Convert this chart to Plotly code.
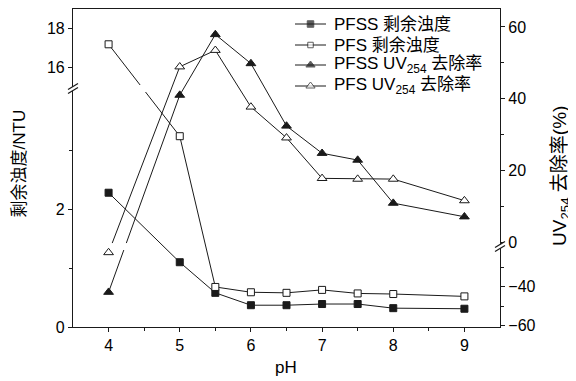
import plotly.graph_objects as go

# ---------------- data ----------------
ph = [4, 5, 5.5, 6, 6.5, 7, 7.5, 8, 9]
pfss_turbidity = [2.28, 1.10, 0.58, 0.37, 0.37, 0.39, 0.39, 0.32, 0.31]
pfs_turbidity = [17.18, 3.24, 0.68, 0.59, 0.58, 0.63, 0.57, 0.56, 0.52]
pfss_uv_removal = [-42.8, 41.0, 57.9, 49.8, 32.4, 24.8, 22.9, 10.9, 7.1]
pfs_uv_removal = [-22.3, 48.9, 53.5, 37.7, 29.1, 17.8, 17.6, 17.6, 11.6]

series_names = ["PFSS 剩余浊度", "PFS 剩余浊度",
                "PFSS UV<sub>254</sub> 去除率", "PFS UV<sub>254</sub> 去除率"]

x_major = [4, 5, 6, 7, 8, 9]
x_minor = [4.5, 5.5, 6.5, 7.5, 8.5]
left_major = [0, 2, 16, 18]
left_minor = [1, 3]
right_major = [60, 40, 20, 0, -40, -60]
right_minor = [50, 30, 10, -30, -50]

# broken axes: value range -> fraction of plot height
LEFT_SEG = [((0.0, 4.05), (0.0, 0.75)), ((14.9, 19.0), (0.75, 1.0))]
RIGHT_SEG = [((-60.8, -19.2), (0.0, 0.253)), ((-1.2, 65.0), (0.253, 1.0))]
GAP = 0.011  # half gap of a line crossing a break (fraction of height)

FONT = "Liberation Sans, Arial, Noto Sans CJK SC, sans-serif"
LINE = "#1a1a1a"

# figure geometry (window pixels; page body adds an 8px offset)
W, H = 568, 373
ML, MR, MT, MB = 65, 76, 1, 54
PX0, PX1 = ML + 8, W - MR + 8          # plot left / right in window px
PY0, PY1 = MT + 8, H - MB + 8          # plot top / bottom in window px

# legend layout (window px)
LEG_ROWS = [24, 45, 65, 86]
LEG_LINE = (295, 326)
LEG_TEXT_X = 332


def seg_index(v, segs):
    for i, ((v0, v1), _) in enumerate(segs):
        if v0 - 1e-9 <= v <= v1 + 1e-9:
            return i
    return 0 if v < segs[0][0][0] else len(segs) - 1


def to_frac(v, segs):
    (v0, v1), (f0, f1) = segs[seg_index(v, segs)]
    return f0 + (v - v0) * (f1 - f0) / (v1 - v0)


def build(xs, vs, segs):
    fs = [to_frac(v, segs) for v in vs]
    idx = [seg_index(v, segs) for v in vs]
    mx, my, bx, by = [], [], [], []
    for i in range(len(xs)):
        if i > 0 and idx[i] != idx[i - 1]:
            mx.append(None)
            my.append(None)
            fb = segs[min(idx[i], idx[i - 1])][1][1]
            x0, f0, x1, f1 = xs[i - 1], fs[i - 1], xs[i], fs[i]
            s = 1 if f1 > f0 else -1
            ta = (fb - GAP * s - f0) / (f1 - f0)
            tb = (fb + GAP * s - f0) / (f1 - f0)
            bx += [x0, x0 + ta * (x1 - x0), None, x0 + tb * (x1 - x0), x1, None]
            by += [f0, fb - GAP * s, None, fb + GAP * s, f1, None]
        mx.append(xs[i])
        my.append(fs[i])
    return mx, my, bx, by


fig = go.Figure()

specs = [
    (pfss_turbidity, LEFT_SEG, "y", "square", LINE, 7, 6.5),
    (pfs_turbidity, LEFT_SEG, "y", "square", "white", 7, 5.5),
    (pfss_uv_removal, RIGHT_SEG, "y2", "triangle-up", LINE, 8.5, 8),
    (pfs_uv_removal, RIGHT_SEG, "y2", "triangle-up", "white", 8.5, 8),
]

for k, (name, (vals, segs, yax, sym, fill, size, lsize)) in enumerate(
        zip(series_names, specs)):
    mx, my, bx, by = build(ph, vals, segs)
    if bx:
        fig.add_trace(go.Scatter(x=bx, y=by, yaxis=yax, mode="lines",
                                 line=dict(color=LINE, width=1),
                                 showlegend=False, hoverinfo="skip"))
    fig.add_trace(go.Scatter(
        x=mx, y=my, yaxis=yax, name=name, mode="lines+markers",
        line=dict(color=LINE, width=1),
        marker=dict(symbol=sym, size=size, color=fill,
                    line=dict(color=LINE, width=1)),
        cliponaxis=False, showlegend=False))
    # legend key drawn on an auxiliary (hidden) axis pair in window pixels
    row = LEG_ROWS[k]
    fig.add_trace(go.Scatter(
        x=[LEG_LINE[0], (LEG_LINE[0] + LEG_LINE[1]) / 2, LEG_LINE[1]],
        y=[row, row, row], xaxis="x2", yaxis="y3", mode="lines+markers",
        line=dict(color=LINE, width=1),
        marker=dict(symbol=sym, size=[0, lsize, 0], color=fill,
                    line=dict(color=LINE, width=[0, 1, 0])),
        showlegend=False, hoverinfo="skip", cliponaxis=False))
    fig.add_annotation(text=name, xref="x2", yref="y3", x=LEG_TEXT_X, y=row,
                       xanchor="left", yanchor="middle", showarrow=False,
                       font=dict(family=FONT, size=17, color="black"))

axis_common = dict(showline=True, linecolor=LINE, linewidth=1.2,
                   ticks="outside", ticklen=4, tickwidth=1, tickcolor=LINE,
                   showgrid=False, zeroline=False,
                   tickfont=dict(family=FONT, size=16, color="black"))

fig.update_layout(
    width=W, height=H,
    margin=dict(l=ML, r=MR, t=MT, b=MB),
    paper_bgcolor="white", plot_bgcolor="white",
    font=dict(family=FONT, color="black"),
    showlegend=False,
    xaxis=dict(range=[3.5, 9.5], tickmode="array", tickvals=x_major,
               ticktext=[str(v) for v in x_major], mirror=True,
               minor=dict(tickmode="array", tickvals=x_minor, ticks="outside",
                          ticklen=2.5, tickcolor=LINE),
               **axis_common),
    yaxis=dict(range=[0, 1], tickmode="array",
               tickvals=[to_frac(v, LEFT_SEG) for v in left_major],
               ticktext=[str(v) for v in left_major],
               minor=dict(tickmode="array",
                          tickvals=[to_frac(v, LEFT_SEG) for v in left_minor],
                          ticks="outside", ticklen=2.5, tickcolor=LINE),
               **axis_common),
    yaxis2=dict(range=[0, 1], overlaying="y", side="right", anchor="x",
                tickmode="array",
                tickvals=[to_frac(v, RIGHT_SEG) for v in right_major],
                ticktext=[str(v).replace("-", "\u2212") for v in right_major],
                minor=dict(tickmode="array",
                           tickvals=[to_frac(v, RIGHT_SEG) for v in right_minor],
                           ticks="outside", ticklen=2.5, tickcolor=LINE),
                **axis_common),
    xaxis2=dict(range=[PX0, PX1], overlaying="x", visible=False,
                showgrid=False, zeroline=False, fixedrange=True),
    yaxis3=dict(range=[PY1, PY0], overlaying="y", visible=False,
                showgrid=False, zeroline=False, fixedrange=True),
)

# break marks on the axes
for xa, fb in ((0, LEFT_SEG[0][1][1]), (1, RIGHT_SEG[0][1][1])):
    fig.add_shape(type="path", xref="paper", yref="paper",
                  xsizemode="pixel", ysizemode="pixel", xanchor=xa, yanchor=fb,
                  path="M-5,-5 L5,1 L5,5 L-5,-1 Z", fillcolor="white",
                  line=dict(width=0), layer="above")
    for dy in (-2, 2):
        fig.add_shape(type="line", xref="paper", yref="paper",
                      xsizemode="pixel", ysizemode="pixel", xanchor=xa, yanchor=fb,
                      x0=-5, x1=5, y0=-3 + dy, y1=3 + dy,
                      line=dict(color=LINE, width=1.2), layer="above")

# axis titles
fig.add_annotation(text="剩余浊度/NTU", xref="paper", yref="paper",
                   x=-0.126, y=0.515, textangle=-90, showarrow=False,
                   xanchor="center", yanchor="middle",
                   font=dict(family=FONT, size=17, color="black"))
fig.add_annotation(text="UV<sub>254</sub> 去除率(%)", xref="paper", yref="paper",
                   x=1.143, y=0.475, textangle=-90, showarrow=False,
                   xanchor="center", yanchor="middle",
                   font=dict(family=FONT, size=19, color="black"))
fig.add_annotation(text="pH", xref="paper", yref="paper",
                   x=0.499, y=-0.128, showarrow=False,
                   xanchor="center", yanchor="middle",
                   font=dict(family=FONT, size=17, color="black"))

fig.write_html("out.html")
